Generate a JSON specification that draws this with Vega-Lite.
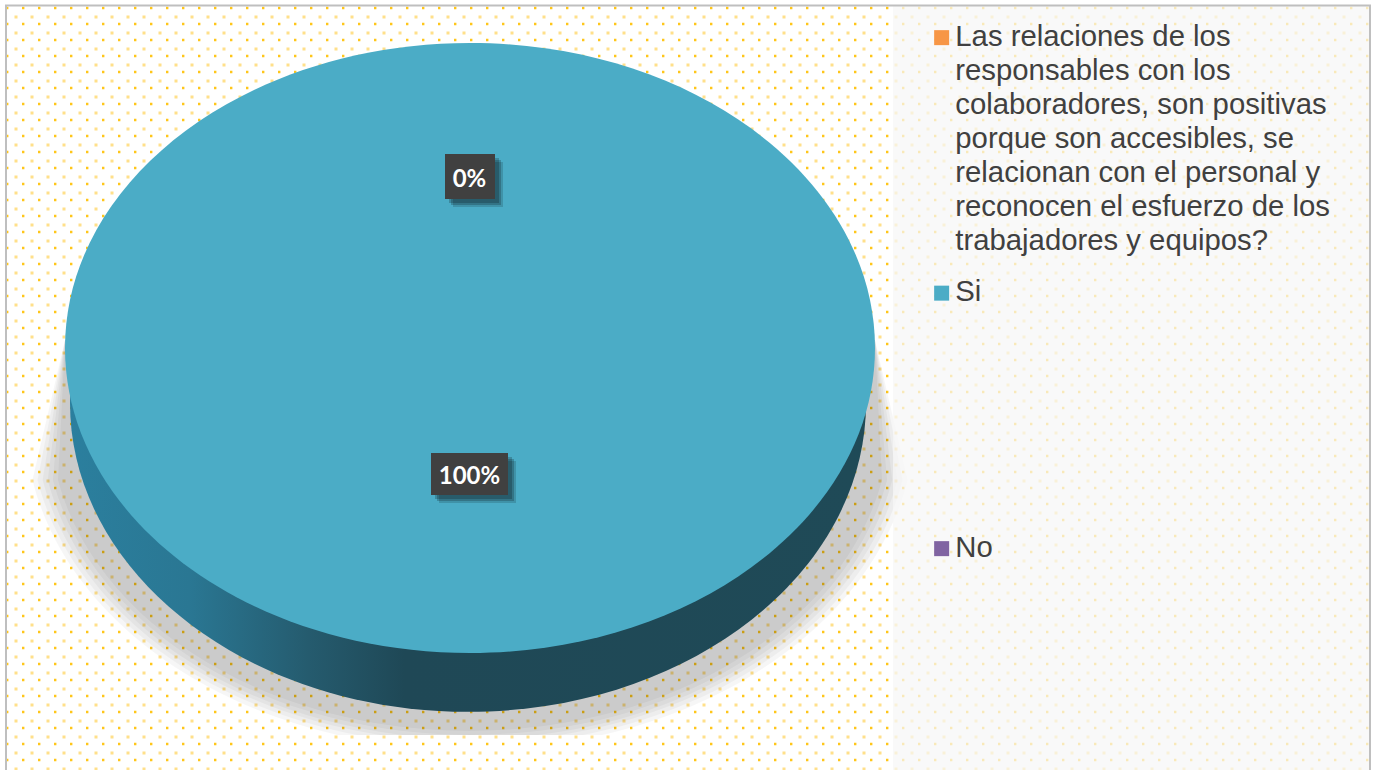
{"$schema":"https://vega.github.io/schema/vega-lite/v6.json","width":1373,"height":770,"padding":0,"autosize":{"type":"none"},"background":"#ffffff","config":{"view":{"stroke":null}},
"data":{"values":[{"categoria":"Las relaciones de los responsables con los colaboradores, son positivas porque son accesibles, se relacionan con el personal y reconocen el esfuerzo de los trabajadores y equipos?","pct":0,"etiqueta":"0%","rotulada":false},{"categoria":"Si","pct":100,"etiqueta":"100%","rotulada":true},{"categoria":"No","pct":0,"etiqueta":"0%","rotulada":true}]},
"layer":[
{"data":{"values":[{"parte":"puntos"}]},"mark":{"type":"point","x":0,"y":0,"size":4,"filled":false,"opacity":1,"stroke":"#FFC61A","strokeWidth":2.4,"strokeDash":[2.4,13.6],"shape":"M6 8H1370M6 24H1370M6 40H1370M6 56H1370M6 72H1370M6 88H1370M6 104H1370M6 120H1370M6 136H1370M6 152H1370M6 168H1370M6 184H1370M6 200H1370M6 216H1370M6 232H1370M6 248H1370M6 264H1370M6 280H1370M6 296H1370M6 312H1370M6 328H1370M6 344H1370M6 360H1370M6 376H1370M6 392H1370M6 408H1370M6 424H1370M6 440H1370M6 456H1370M6 472H1370M6 488H1370M6 504H1370M6 520H1370M6 536H1370M6 552H1370M6 568H1370M6 584H1370M6 600H1370M6 616H1370M6 632H1370M6 648H1370M6 664H1370M6 680H1370M6 696H1370M6 712H1370M6 728H1370M6 744H1370M6 760H1370"}},
{"data":{"values":[{"parte":"puntos"}]},"mark":{"type":"point","x":0,"y":0,"size":4,"filled":false,"opacity":0.65,"stroke":"#FFD04D","strokeWidth":3,"strokeDash":[3,13],"shape":"M14.5 17H1370M14.5 33H1370M14.5 49H1370M14.5 65H1370M14.5 81H1370M14.5 97H1370M14.5 113H1370M14.5 129H1370M14.5 145H1370M14.5 161H1370M14.5 177H1370M14.5 193H1370M14.5 209H1370M14.5 225H1370M14.5 241H1370M14.5 257H1370M14.5 273H1370M14.5 289H1370M14.5 305H1370M14.5 321H1370M14.5 337H1370M14.5 353H1370M14.5 369H1370M14.5 385H1370M14.5 401H1370M14.5 417H1370M14.5 433H1370M14.5 449H1370M14.5 465H1370M14.5 481H1370M14.5 497H1370M14.5 513H1370M14.5 529H1370M14.5 545H1370M14.5 561H1370M14.5 577H1370M14.5 593H1370M14.5 609H1370M14.5 625H1370M14.5 641H1370M14.5 657H1370M14.5 673H1370M14.5 689H1370M14.5 705H1370M14.5 721H1370M14.5 737H1370M14.5 753H1370M14.5 769H1370"}},
{"data":{"values":[{"parte":"sombra"}]},"mark":{"type":"point","x":470,"y":420,"size":4,"filled":true,"fill":"#000000","stroke":null,"opacity":0.035,"shape":"M-405 -80L-412.1 60A420 311 0 0 0 412.1 60L405 -80Z"}},
{"data":{"values":[{"parte":"sombra"}]},"mark":{"type":"point","x":470,"y":420,"size":4,"filled":true,"fill":"#000000","stroke":null,"opacity":0.035,"shape":"M-405 -80L-417.2 60A425 315 0 0 0 417.2 60L405 -80Z"}},
{"data":{"values":[{"parte":"sombra"}]},"mark":{"type":"point","x":470,"y":420,"size":4,"filled":true,"fill":"#000000","stroke":null,"opacity":0.035,"shape":"M-405 -80L-422.3 60A430 319 0 0 0 -67.9 315H67.9A430 319 0 0 0 422.3 60L405 -80Z"}},
{"data":{"values":[{"parte":"sombra"}]},"mark":{"type":"point","x":470,"y":420,"size":4,"filled":true,"fill":"#000000","stroke":null,"opacity":0.035,"shape":"M-405 -80L-427.4 60A435 322 0 0 0 -90.2 315H90.2A435 322 0 0 0 427.4 60L405 -80Z"}},
{"data":{"values":[{"parte":"sombra"}]},"mark":{"type":"point","x":470,"y":420,"size":4,"filled":true,"fill":"#000000","stroke":null,"opacity":0.035,"shape":"M-405 -80L-432.5 60A440 326 0 0 0 -113.3 315H113.3A440 326 0 0 0 432.5 60L405 -80Z"}},
{"data":{"values":[{"parte":"sombra"}]},"mark":{"type":"point","x":470,"y":420,"size":4,"filled":true,"fill":"#000000","stroke":null,"opacity":0.035,"shape":"M-405 -80L-437.6 60A445 330 0 0 0 -132.6 315H132.6A445 330 0 0 0 437.6 60L405 -80Z"}},
{"data":{"values":[{"parte":"panel"}]},"mark":{"type":"point","x":0,"y":0,"size":4,"filled":true,"fill":"#F7F7F7","stroke":null,"opacity":0.72,"shape":"M893 6H1370V770H893Z"}},
{"data":{"values":[{"parte":"borde"}]},"mark":{"type":"point","x":0,"y":0,"size":4,"filled":false,"opacity":1,"stroke":"#BFBFBF","strokeWidth":2,"shape":"M6 770V5.5H1370V770"}},
{"transform":[{"filter":"datum.pct > 0"}],"mark":{"type":"point","x":468,"y":403,"size":633616,"filled":true,"opacity":1,"stroke":null,"fill":{"gradient":"linear","x1":0,"y1":0,"x2":1,"y2":0,"stops":[{"offset":0,"color":"#2B7F9E"},{"offset":0.15,"color":"#2A7793"},{"offset":0.3,"color":"#255B6E"},{"offset":0.42,"color":"#1F4856"},{"offset":1,"color":"#1F4A57"}]},"shape":"M-1 0A1 .776 0 1 1 1 0A1 .776 0 1 1 -1 0Z"}},
{"mark":{"type":"point","x":470,"y":348,"filled":true,"opacity":1,"stroke":null,"shape":"M-1 0A1 .753 0 1 1 1 0A1 .753 0 1 1 -1 0Z"},"encoding":{"color":{"field":"categoria","type":"nominal","scale":{"domain":["Las relaciones de los responsables con los colaboradores, son positivas porque son accesibles, se relacionan con el personal y reconocen el esfuerzo de los trabajadores y equipos?","Si","No"],"range":["#F79646","#4BACC6","#8064A2"]},"legend":{"orient":"none","legendX":927,"legendY":23,"title":null,"padding":0,"symbolType":"square","symbolSize":225,"symbolOpacity":1,"symbolStrokeWidth":0,"labelFont":"Liberation Sans","labelFontSize":29.3,"labelColor":"#404040","labelLimit":600,"labelOffset":-1,"labelBaseline":"top","gridAlign":"all","rowPadding":21.5,"labelExpr":"length(datum.label) > 20 ? ['Las relaciones de los','responsables con los','colaboradores, son positivas','porque son accesibles, se','relacionan con el personal y','reconocen el esfuerzo de los','trabajadores y equipos?'] : datum.label","encoding":{"labels":{"lineHeight":{"value":34},"dy":{"value":-15}}}}},"size":{"field":"pct","type":"quantitative","scale":{"domain":[0,100],"range":[0,656100]},"legend":null}}},
{"transform":[{"filter":"datum.rotulada"}],"mark":{"type":"point","x":470,"xOffset":4,"yOffset":4,"size":4,"filled":true,"color":"#000000","stroke":null,"opacity":0.2},"encoding":{"y":{"field":"pct","type":"quantitative","scale":{"domain":[0,100],"range":[176.5,474]},"axis":null},"shape":{"field":"etiqueta","type":"nominal","scale":{"domain":["0%","100%"],"range":["M-25 -22.5H25V22.5H-25Z","M-39 -21H38V21H-39Z"]},"legend":null}}},
{"transform":[{"filter":"datum.rotulada"}],"mark":{"type":"point","x":470,"xOffset":6,"yOffset":6,"size":4,"filled":true,"color":"#000000","stroke":null,"opacity":0.2},"encoding":{"y":{"field":"pct","type":"quantitative","scale":{"domain":[0,100],"range":[176.5,474]},"axis":null},"shape":{"field":"etiqueta","type":"nominal","scale":{"domain":["0%","100%"],"range":["M-25 -22.5H25V22.5H-25Z","M-39 -21H38V21H-39Z"]},"legend":null}}},
{"transform":[{"filter":"datum.rotulada"}],"mark":{"type":"point","x":470,"xOffset":8,"yOffset":8,"size":4,"filled":true,"color":"#000000","stroke":null,"opacity":0.15},"encoding":{"y":{"field":"pct","type":"quantitative","scale":{"domain":[0,100],"range":[176.5,474]},"axis":null},"shape":{"field":"etiqueta","type":"nominal","scale":{"domain":["0%","100%"],"range":["M-25 -22.5H25V22.5H-25Z","M-39 -21H38V21H-39Z"]},"legend":null}}},
{"transform":[{"filter":"datum.rotulada"}],"mark":{"type":"point","x":470,"size":4,"filled":true,"color":"#404040","stroke":null,"opacity":1},"encoding":{"y":{"field":"pct","type":"quantitative","scale":{"domain":[0,100],"range":[176.5,474]},"axis":null},"shape":{"field":"etiqueta","type":"nominal","scale":{"domain":["0%","100%"],"range":["M-25 -22.5H25V22.5H-25Z","M-39 -21H38V21H-39Z"]},"legend":null}}},
{"transform":[{"filter":"datum.rotulada"}],"mark":{"type":"text","x":469.5,"dy":3,"font":"Lato","fontWeight":"bold","fontSize":24,"color":"#ffffff","align":"center","baseline":"middle"},"encoding":{"y":{"field":"pct","type":"quantitative","scale":{"domain":[0,100],"range":[176.5,474]},"axis":null},"text":{"field":"etiqueta","type":"nominal"}}}
]}
